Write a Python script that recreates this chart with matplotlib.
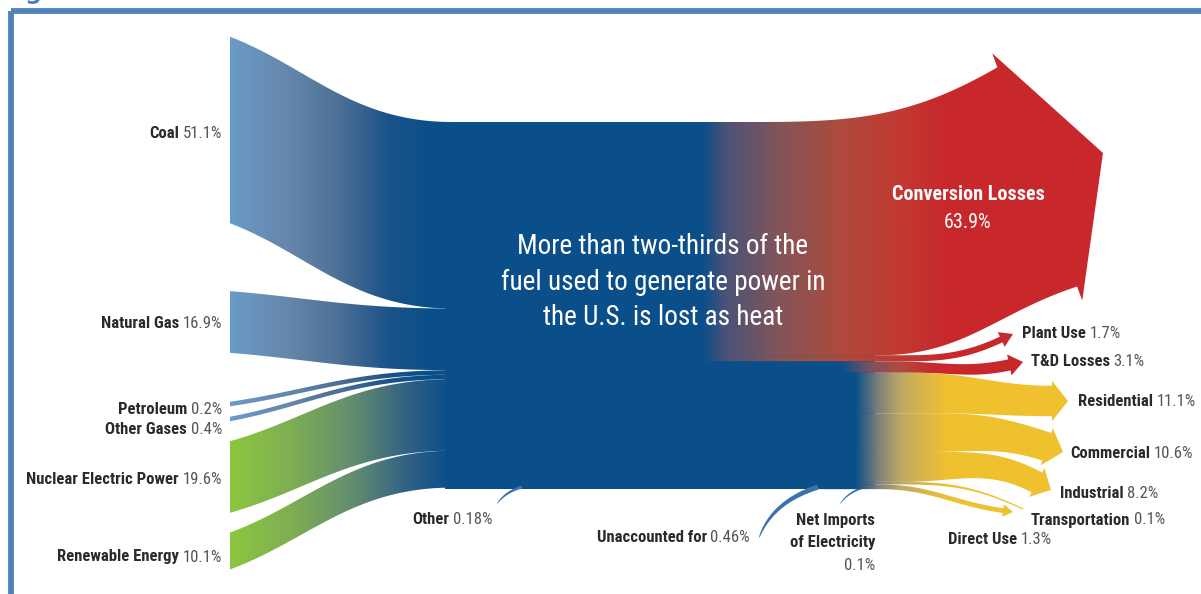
import os
import numpy as np
import matplotlib
matplotlib.use('Agg')
import matplotlib.pyplot as plt
from matplotlib.path import Path
from matplotlib.patches import PathPatch, Rectangle
from matplotlib.colors import to_rgb
from matplotlib import font_manager
from matplotlib.font_manager import FontProperties

# ---- data (percent of fuel used to generate power) ----
sources = ['Coal', 'Natural Gas', 'Petroleum', 'Other Gases',
           'Nuclear Electric Power', 'Renewable Energy']
source_pct = [51.1, 16.9, 0.2, 0.4, 19.6, 10.1]

outputs = ['Conversion Losses', 'Plant Use', 'T&D Losses', 'Residential',
           'Commercial', 'Industrial', 'Transportation', 'Direct Use']
output_pct = [63.9, 1.7, 3.1, 11.1, 10.6, 8.2, 0.1, 1.3]

minor = ['Other', 'Unaccounted for', 'Net Imports\nof Electricity']
minor_pct = [0.18, 0.46, 0.1]

# ---- layout / style ----
SCALE = 3.65      # px per percent
MINW = 4.5
TOP = 122
X_SRC, X_JOIN = 230, 452
TRUNK = '#0a4f89'

src_center = [130, 322, 404, 419, 477, 551]
src_style = ['fossil', 'fossil', 'fossil', 'fossil', 'green', 'green']

# x_start, split_top, split_bot, tip, angle, head_len, head_extra, end_ratio, top_ang, bot_ang, colour
out_layout = [
    (700, 760, 880, (1103, 153), 20, 70, 15, 1.0, 30, 18, 'red'),
    (700, 880, 895, (1013, 334), 25, 13, 5, 1.0, None, None, 'red'),
    (700, 895, 915, (1023, 362), 12, 14, 5, 1.0, None, None, 'red2'),
    (820, 915, 940, (1068, 401), 0, 16, 5, 0.75, None, None, 'yellow'),
    (820, 940, 930, (1063, 452), -18, 17, 5, 0.75, None, None, 'yellow'),
    (820, 930, 905, (1051, 490), -28, 16, 5, 0.75, None, None, 'yellow'),
    (820, 905, 900, (1023, 509), -25, 0, 0, 0.5, None, None, 'yellow'),
    (820, 880, 880, (1013, 512), -8, 10, 4, 1.0, None, None, 'yellow'),
]

stops = {
    'fossil': [(230, '#6b9bc8'), (290, '#6486aa'), (340, '#4c6f95'), (390, '#1a5289'), (430, TRUNK)],
    'green': [(230, '#8cc63f'), (290, '#7fae52'), (350, '#658f6e'), (410, '#2f5f85'), (450, TRUNK)],
    'red': [(702, TRUNK), (725, '#4a5278'), (780, '#845558'), (840, '#ae4a3c'),
            (900, '#c23a32'), (945, '#c8282c')],
    'red2': [(842, TRUNK), (870, '#7a5260'), (900, '#b04a40'), (935, '#c8282c')],
    'yellow': [(855, TRUNK), (880, '#85837a'), (900, '#bca866'), (925, '#dcb548'),
               (950, '#f0c12e')],
}


# pick a condensed face if one is installed
def find_condensed():
    files = sorted({f.fname for f in font_manager.fontManager.ttflist})
    prefixes = ['LiberationSansNarrow', 'RobotoCondensed', 'NotoSans-Condensed',
                'OpenSans-Condensed', 'OpenSansCondensed', 'OpenSans_Condensed',
                'DejaVuSansCondensed']
    for pre in prefixes:
        fam = [p for p in files if os.path.basename(p).startswith(pre)]
        if not fam:
            continue
        stems = {p: os.path.splitext(os.path.basename(p))[0] for p in fam}
        bold = [p for p, s in stems.items() if s.endswith('Bold') and 'Semi' not in s
                and 'Extra' not in s and 'Italic' not in s]
        reg = [p for p, s in stems.items() if s.endswith('Regular') or s == pre
               or s.endswith('Condensed') or s.endswith('Narrow')]
        if bold and reg:
            return reg[0], bold[0]
    return None, None


REG, BOLD = find_condensed()
CONDENSED = REG is not None


def fp(size, bold=False):
    if CONDENSED:
        return FontProperties(fname=BOLD if bold else REG, size=size)
    return FontProperties(family='DejaVu Sans', weight='bold' if bold else 'normal',
                          size=size * 0.82)


fig = plt.figure(figsize=(12.01, 5.94), dpi=100)
ax = fig.add_axes([0, 0, 1, 1])
ax.set_xlim(0, 1201)
ax.set_ylim(594, 0)
ax.set_autoscale_on(False)
ax.axis('off')


def cubic(P0, P1, P2, P3, n=80):
    t = np.linspace(0, 1, n)[:, None]
    P0, P1, P2, P3 = map(np.asarray, (P0, P1, P2, P3))
    return (1 - t) ** 3 * P0 + 3 * (1 - t) ** 2 * t * P1 + 3 * (1 - t) * t ** 2 * P2 + t ** 3 * P3


def gradient_fill(verts, st, z=2):
    verts = np.asarray(verts, float)
    patch = PathPatch(Path(np.vstack([verts, verts[:1]]), closed=True),
                      facecolor='none', edgecolor='none')
    ax.add_patch(patch)
    x0, x1 = verts[:, 0].min() - 1, verts[:, 0].max() + 1
    y0, y1 = verts[:, 1].min() - 1, verts[:, 1].max() + 1
    xs = np.linspace(x0, x1, 500)
    sx = [s[0] for s in st]
    cols = np.array([to_rgb(s[1]) for s in st])
    img = np.stack([np.interp(xs, sx, cols[:, i]) for i in range(3)], axis=-1)[None]
    im = ax.imshow(img, extent=(x0, x1, y1, y0), aspect='auto',
                   interpolation='bilinear', zorder=z)
    im.set_clip_path(patch)


def src_edge(y0, y1):
    dx, dy = X_JOIN - X_SRC, y1 - y0
    c = cubic((X_SRC, y0), (X_SRC + 0.35 * dx, y0 + 0.35 * dy),
              (X_JOIN - 0.45 * dx, y1), (X_JOIN, y1))
    return np.vstack([c, [[X_JOIN + 25, y1]]])


def out_edge(x0, y0, xs, end, ang, k=0.4):
    a = np.radians(ang)
    d = np.array([np.cos(a), -np.sin(a)])
    P0 = np.array([xs, y0], float)
    P3 = np.asarray(end, float)
    L = np.hypot(*(P3 - P0))
    c = cubic(P0, P0 + [k * L, 0], P3 - k * L * d, P3)
    return np.vstack([[[x0, y0]], c])


# ---- trunk ----
src_w = [max(MINW, SCALE * p) for p in source_pct]
out_w = [max(MINW if p > 0.5 else 2.5, SCALE * p) for p in output_pct]
bottom = TOP + max(sum(src_w), sum(out_w))
ax.add_patch(Rectangle((445, TOP), 430, bottom - TOP, facecolor=TRUNK,
                       edgecolor='none', zorder=1))

# ---- sources ----
y = TOP
for w, c, sty in zip(src_w, src_center, src_style):
    top = src_edge(c - w / 2, y)
    bot = src_edge(c + w / 2, y + w)
    gradient_fill(np.vstack([top, bot[::-1]]), stops[sty], z=2)
    y += w

# ---- outputs ----
y = TOP
for w, lay in zip(out_w, out_layout):
    x0, stp, sbt, tip, ang, hl, he, ratio, ta, ba, col = lay
    a = np.radians(ang)
    d = np.array([np.cos(a), -np.sin(a)])
    n = np.array([-np.sin(a), -np.cos(a)])
    tip = np.asarray(tip, float)
    c = tip - hl * d
    we = w * ratio / 2
    top = out_edge(x0, y, stp, c + we * n, ang if ta is None else ta)
    bot = out_edge(x0, y + w, sbt, c - we * n, ang if ba is None else ba)
    if hl > 0:
        head = np.array([c + (we + he) * n, tip, c - (we + he) * n])
    else:
        head = np.array([tip])
    gradient_fill(np.vstack([top, head, bot[::-1]]), stops[col], z=3)
    y += w

# ---- minor thin streaks ----
minor_geo = [((497, 504), (505, 492), (522, 487)),
             ((759, 538), (772, 502), (818, 487)),
             ((840, 504), (848, 492), (865, 487))]
for p, (s, m, e) in zip(minor_pct, minor_geo):
    s, m, e = map(np.asarray, (s, m, e))
    t = np.linspace(0, 1, 60)[:, None]
    pts = (1 - t) ** 2 * s + 2 * (1 - t) * t * m + t ** 2 * e
    tang = 2 * (1 - t) * (m - s) + 2 * t * (e - m)
    tang /= np.linalg.norm(tang, axis=1, keepdims=True)
    nrm = np.column_stack([-tang[:, 1], tang[:, 0]])
    hw = (1.5 + 8 * p) / 2 * np.sqrt(t)
    poly = np.vstack([pts + hw * nrm, (pts - hw * nrm)[::-1]])
    ax.add_patch(plt.Polygon(poly, closed=True, facecolor='#3d73ad',
                             edgecolor='none', zorder=1.5))

# ---- labels ----
renderer = fig.canvas.get_renderer()
NAME_C, PCT_C = '#2a2a2a', '#555555'
FS = 12


def label(x, y, name, pct, ha='left', fs=FS):
    if ha == 'left':
        t1 = ax.text(x, y, name, fontproperties=fp(fs, True), color=NAME_C,
                     ha='left', va='center', zorder=6)
        w1 = t1.get_window_extent(renderer).width
        ax.text(x + w1 + 3.5, y, pct, fontproperties=fp(fs), color=PCT_C,
                ha='left', va='center', zorder=6)
    else:
        t2 = ax.text(x, y, pct, fontproperties=fp(fs), color=PCT_C,
                     ha='right', va='center', zorder=6)
        w2 = t2.get_window_extent(renderer).width
        ax.text(x - w2 - 3.5, y, name, fontproperties=fp(fs, True), color=NAME_C,
                ha='right', va='center', zorder=6)


src_label_y = [133, 323, 409, 430, 480, 557]
for nm, p, yy in zip(sources, source_pct, src_label_y):
    label(222, yy, nm, f'{p}%', ha='right')

out_label_pos = [None, (1022, 333), (1031, 361), (1078, 401), (1070, 454),
                 (1060, 494), (1031, 520), (948, 540)]
for nm, p, pos in zip(outputs, output_pct, out_label_pos):
    if pos is None:
        continue
    label(pos[0], pos[1], nm, f'{p}%', ha='left')

label(412, 519, minor[0], f'{minor_pct[0]}%', ha='left')
label(750, 538, minor[1], f'{minor_pct[1]}%', ha='right')
ni = minor[2].split('\n')
ax.text(875, 521, ni[0], fontproperties=fp(FS, True), color=NAME_C,
        ha='right', va='center')
ax.text(875, 543, ni[1], fontproperties=fp(FS, True), color=NAME_C,
        ha='right', va='center')
ax.text(875, 565, f'{minor_pct[2]}%', fontproperties=fp(FS), color=PCT_C,
        ha='right', va='center')

ax.text(968, 194, outputs[0], fontproperties=fp(14.5, True), color='white',
        ha='center', va='center', zorder=6)
ax.text(968, 222, f'{output_pct[0]}%', fontproperties=fp(14.5), color='white',
        ha='center', va='center', zorder=6)

ax.text(663, 282, 'More than two-thirds of the\nfuel used to generate power in\nthe U.S. is lost as heat',
        fontproperties=fp(19.5), color='white', ha='center', va='center',
        linespacing=1.38, zorder=6)

# ---- frame ----
ax.add_patch(Rectangle((10.5, 10.5), 1300, 700, facecolor='none',
                       edgecolor='#4f81bd', linewidth=4.2, zorder=7))
ax.text(2, -1, 'Figure', fontsize=17, fontweight='bold', color='#4f81bd',
        family='DejaVu Sans', ha='left', va='baseline', zorder=7)

fig.savefig('out.png', dpi=100)
